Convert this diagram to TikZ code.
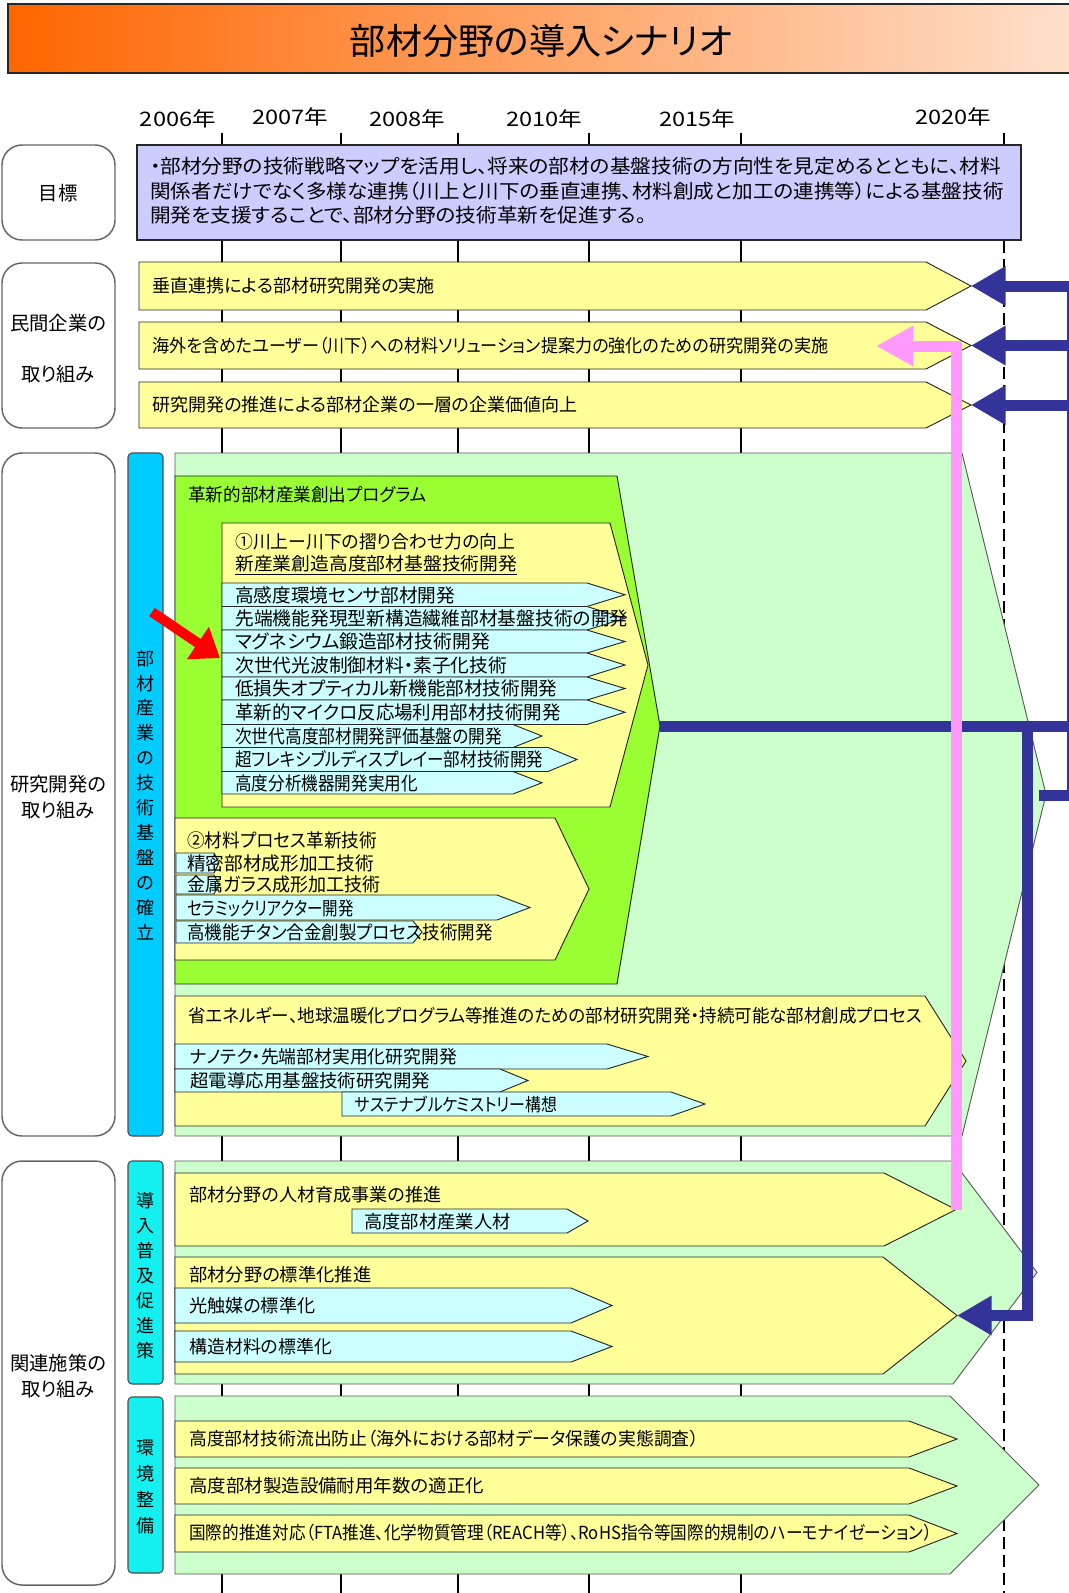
\documentclass[tikz,border=0pt]{standalone}
\usepackage{fontspec}
\setmainfont{Noto Sans CJK JP}[RawFeature={+palt}]
\usetikzlibrary{arrows.meta}
\definecolor{ylw}{RGB}{255,255,153}
\definecolor{lgrn}{RGB}{204,255,204}
\definecolor{bgrn}{RGB}{153,255,51}
\definecolor{lcyn}{RGB}{204,255,255}
\definecolor{dblu}{RGB}{51,51,153}
\definecolor{pnk}{RGB}{255,153,255}
\definecolor{lav}{RGB}{204,204,255}
\definecolor{sky}{RGB}{0,204,255}
\definecolor{aqua}{RGB}{20,240,240}
\definecolor{ttlL}{RGB}{255,102,0}
\definecolor{ttlR}{RGB}{255,226,206}
\newcommand\fitw[2]{\resizebox{#1pt}{\height}{#2}}
\newcommand\mypent[6][]{\path[#1] (#2,#3) -- (#4,#3) -- (#5,{(#3+#6)/2}) -- (#4,#6) -- (#2,#6) -- cycle;}
\tikzset{
  pen/.style={draw=black!85, line width=0.7pt},
  ybox/.style={pen, fill=ylw},
  cbox/.style={pen, fill=lcyn},
  gbox/.style={draw=black!65, line width=0.7pt, fill=lgrn},
  bgbox/.style={pen, fill=bgrn},
  sidebox/.style={draw=black!60, line width=1.1pt, fill=white, rounded corners=15pt},
  vbar/.style={draw=black!70, line width=0.8pt, rounded corners=3pt},
  tx/.style={anchor=west, inner sep=0pt, font=\fontsize{13.5}{16}\selectfont},
  gtx/.style={anchor=west, inner sep=0pt, font=\fontsize{14.5}{17}\selectfont},
  sidetx/.style={align=center, inner sep=0pt, font=\fontsize{14.5}{19.5}\selectfont},
  yr/.style={inner sep=0pt, font=\fontsize{15}{18}\selectfont},
  tick/.style={line width=1.5pt, black},
  blueln/.style={line width=8.25pt, dblu},
  bluearr/.style={line width=8.25pt, dblu, line join=miter, -{Triangle[length=26pt 0 0, width=28pt 0 0]}},
}
\begin{document}
\begin{tikzpicture}[x=0.75pt,y=-0.75pt]
\fill[white] (0,0) rectangle (1068,1593);
\useasboundingbox (0,0) rectangle (1068,1593);

% ---------- title
\shade[left color=ttlL, right color=ttlR] (8,4) rectangle (1090,73);
\draw[black!85, line width=1.5pt] (8,4) rectangle (1090,73);
\node[inner sep=0pt, font=\fontsize{27}{30}\selectfont] (title) at (541,41) {\fitw{286.5}{部材分野の導入シナリオ}};

% ---------- time axis
\foreach \x in {222,341,458,589,741} \draw[tick] (\x,133) -- (\x,1593);
\draw[tick, dash pattern=on 9pt off 4.5pt] (1004,133) -- (1004,1593);
\node[yr] (y2006) at (178,119) {\fitw{57}{2006年}};
\node[yr] (y2007) at (290,117) {\fitw{57}{2007年}};
\node[yr] (y2008) at (407,119) {\fitw{57}{2008年}};
\node[yr] (y2010) at (544,119) {\fitw{57}{2010年}};
\node[yr] (y2015) at (697,119) {\fitw{57}{2015年}};
\node[yr] (y2020) at (953,117) {\fitw{57}{2020年}};

% ---------- goal
\draw[black!85, line width=1.2pt, fill=lav] (137,145) rectangle (1021,240);
\node[gtx] (goal1) at (150,166) {\fitw{638}{・部材分野の技術戦略マップを活用し、将来の部材の基盤技術の方向性を見定めるとともに、材料}};
\node[gtx] (goal2) at (150,191) {\fitw{640}{関係者だけでなく多様な連携（川上と川下の垂直連携、材料創成と加工の連携等）による基盤技術}};
\node[gtx] (goal3) at (150,215) {\fitw{372}{開発を支援することで、部材分野の技術革新を促進する。}};

% ---------- side labels
\draw[sidebox] (2,145) rectangle (115,240);
\node[sidetx] (s1) at (58,193) {目標};
\draw[sidebox] (2,263) rectangle (115,428);
\node[sidetx] (s2a) at (58,323) {民間企業の};
\node[sidetx] (s2b) at (58,374) {取り組み};
\draw[sidebox] (2,453) rectangle (115,1136);
\node[sidetx] (s3) at (58,797) {研究開発の\\取り組み};
\draw[sidebox] (2,1161) rectangle (115,1585);
\node[sidetx] (s4) at (58,1376) {関連施策の\\取り組み};

% ---------- private sector rows
\mypent[ybox]{139}{262}{926}{971}{310}
\mypent[ybox]{139}{322}{926}{971}{369}
\mypent[ybox]{139}{382}{926}{971}{428}
\node[tx] (p1) at (152,286) {\fitw{212}{垂直連携による部材研究開発の実施}};
\node[tx] (p2) at (152,346) {\fitw{507}{海外を含めたユーザー（川下）への材料ソリューション提案力の強化のための研究開発の実施}};
\node[tx] (p3) at (152,405) {\fitw{319}{研究開発の推進による部材企業の一層の企業価値向上}};

% ---------- research section
\draw[vbar, fill=sky] (128,453) rectangle (163,1136);
\node[align=center, inner sep=0pt, font=\fontsize{13.5}{18.7}\selectfont] (v1) at (145.5,795) {部\\材\\産\\業\\の\\技\\術\\基\\盤\\の\\確\\立};
\mypent[gbox]{175}{453}{962}{1046}{1136}
\path[bgbox] (175,476) -- (617,476) -- (660,726) -- (617,984) -- (175,984) -- cycle;
\node[tx] (prog) at (188,495) {\fitw{179}{革新的部材産業創出プログラム}};

\mypent[ybox]{222}{523}{610}{648}{807}
\node[tx] (one1) at (235,542) {\fitw{210}{①川上ー川下の摺り合わせ力の向上}};
\node[tx] (one2) at (235,565) {\fitw{211.5}{\underline{新産業創造高度部材基盤技術開発}}};

\mypent[cbox]{222}{583}{587}{625}{606.5}
\mypent[cbox]{222}{606.5}{587}{625}{630}
\mypent[cbox]{222}{630}{587}{625}{653}
\mypent[cbox]{222}{653}{587}{625}{677}
\mypent[cbox]{222}{677}{587}{625}{700}
\mypent[cbox]{222}{700}{587}{625}{724.5}
\mypent[cbox]{222}{724.5}{513}{542}{747.5}
\mypent[cbox]{222}{747.5}{548}{577}{771.5}
\mypent[cbox]{222}{771.5}{513}{542}{794}
\node[tx,font=\fontsize{14}{16}\selectfont] (b1) at (235,595) {\fitw{165}{高感度環境センサ部材開発}};
\node[tx,font=\fontsize{14}{16}\selectfont] (b2) at (235,618.5) {\fitw{295}{先端機能発現型新構造繊維部材基盤技術の開発}};
\node[tx,font=\fontsize{14}{16}\selectfont] (b3) at (235,641.5) {\fitw{191}{マグネシウム鍛造部材技術開発}};
\node[tx,font=\fontsize{14}{16}\selectfont] (b4) at (235,665) {\fitw{204}{次世代光波制御材料・素子化技術}};
\node[tx,font=\fontsize{14}{16}\selectfont] (b5) at (235,688.5) {\fitw{241.5}{低損失オプティカル新機能部材技術開発}};
\node[tx,font=\fontsize{14}{16}\selectfont] (b6) at (235,712) {\fitw{244}{革新的マイクロ反応場利用部材技術開発}};
\node[tx,font=\fontsize{14}{16}\selectfont] (b7) at (235,736) {\fitw{200}{次世代高度部材開発評価基盤の開発}};
\node[tx,font=\fontsize{14}{16}\selectfont] (b8) at (235,759.5) {\fitw{231}{超フレキシブルディスプレイー部材技術開発}};
\node[tx,font=\fontsize{14}{16}\selectfont] (b9) at (235,783) {\fitw{137}{高度分析機器開発実用化}};

\mypent[ybox]{175}{818}{555}{589}{960}
\mypent[cbox]{176}{853}{214}{219}{873}
\mypent[cbox]{176}{875}{214}{219}{894}
\mypent[cbox]{176}{895}{497}{530}{920}
\mypent[cbox]{176}{921}{413}{422}{943}
\node[tx,font=\fontsize{14}{16}\selectfont] (two) at (187,840) {\fitw{142.5}{②材料プロセス革新技術}};
\node[tx,font=\fontsize{14}{16}\selectfont] (c1) at (187,863) {\fitw{140}{精密部材成形加工技術}};
\node[tx,font=\fontsize{14}{16}\selectfont] (c2) at (187,884) {\fitw{145}{金属ガラス成形加工技術}};
\node[tx,font=\fontsize{14}{16}\selectfont] (c3) at (187,908) {\fitw{125}{セラミックリアクター開発}};
\node[tx,font=\fontsize{14}{16}\selectfont] (c4) at (187,932) {\fitw{229}{高機能チタン合金創製プロセス技術開発}};

\mypent[ybox]{175}{996}{925}{966}{1126}
\mypent[cbox]{175}{1044}{607}{648}{1069}
\mypent[cbox]{175}{1069}{500}{528}{1092}
\mypent[cbox]{342}{1092}{671}{705}{1116}
\node[tx] (en) at (188,1016) {\fitw{550.5}{省エネルギー、地球温暖化プログラム等推進のための部材研究開発・持続可能な部材創成プロセス}};
\node[tx] (d1) at (190,1057) {\fitw{200}{ナノテク・先端部材実用化研究開発}};
\node[tx] (d2) at (190,1081) {\fitw{180}{超電導応用基盤技術研究開発}};
\node[tx] (d3) at (355,1104.5) {\fitw{151.5}{サステナブルケミストリー構想}};

% ---------- related measures
\draw[vbar, fill=aqua] (128,1161) rectangle (163,1384);
\node[align=center, inner sep=0pt, font=\fontsize{13.5}{18.75}\selectfont] (v2) at (145.5,1276) {導\\入\\普\\及\\促\\進\\策};
\draw[vbar, fill=aqua] (128,1397) rectangle (163,1573);
\node[align=center, inner sep=0pt, font=\fontsize{13.5}{19.5}\selectfont] (v3) at (145.5,1487) {環\\境\\整\\備};

\mypent[gbox]{175}{1161}{953}{1037}{1384}
\mypent[ybox]{175}{1173}{884}{956}{1246}
\mypent[ybox]{175}{1257}{883}{957}{1374}
\mypent[cbox]{352}{1209}{567}{588}{1233}
\mypent[cbox]{175}{1288}{571}{612}{1323}
\mypent[cbox]{175}{1331}{571}{612}{1362}
\node[tx] (h1) at (189,1195) {\fitw{189}{部材分野の人材育成事業の推進}};
\node[tx] (h2) at (364,1222) {\fitw{110}{高度部材産業人材}};
\node[tx] (h3) at (189,1275) {\fitw{136.5}{部材分野の標準化推進}};
\node[tx] (h4) at (189,1306) {\fitw{94.5}{光触媒の標準化}};
\node[tx] (h5) at (189,1347) {\fitw{107}{構造材料の標準化}};

\mypent[gbox]{175}{1396}{950}{1039}{1574}
\mypent[ybox]{175}{1421}{909}{957}{1457}
\mypent[ybox]{175}{1468}{909}{957}{1504}
\mypent[ybox]{175}{1515}{909}{957}{1552}
\node[tx] (k1) at (189,1439) {\fitw{382}{高度部材技術流出防止（海外における部材データ保護の実態調査）}};
\node[tx] (k2) at (189,1486) {\fitw{221}{高度部材製造設備耐用年数の適正化}};
\node[tx] (k3) at (189,1533) {\fitw{557}{国際的推進対応（FTA推進、化学物質管理（REACH等）、RoHS指令等国際的規制のハーモナイゼーション）}};

% ---------- connectors
\coordinate (r1tip) at (971,286);
\coordinate (r2tip) at (971,345.5);
\coordinate (r3tip) at (971,405);
\coordinate (e1) at (1072.5,286);
\coordinate (e2) at (1072.5,345.5);
\coordinate (e3) at (1072.5,405);
\coordinate (etop) at (1072.5,281);
\coordinate (ebot) at (1072.5,801);
\coordinate (resin) at (1039,795);
\coordinate (e4) at (1072.5,795);
\coordinate (progtip) at (660,726);
\coordinate (eprog) at (1072.5,726);
\coordinate (bend1) at (1027,726);
\coordinate (bend2) at (1027,1315.5);
\coordinate (stdtip) at (957,1315.5);
\coordinate (jintip) at (956,1209.5);
\coordinate (pbend) at (956,346);
\coordinate (pinkend) at (876,346);
\coordinate (redtail) at (152,612);
\coordinate (redtip) at (220,658);

\draw[blueln] (etop) -- (ebot);
\draw[bluearr] (e1) -- (r1tip);
\draw[bluearr] (e2) -- (r2tip);
\draw[bluearr] (e3) -- (r3tip);
\draw[blueln] (e4) -- (resin);
\draw[blueln] (progtip) -- (eprog);
\draw[bluearr] (bend1) -- (bend2) -- (stdtip);

\draw[pnk, line width=8.25pt, line join=miter, -{Triangle[length=28pt 0 0, width=28.5pt 0 0]}] (jintip) -- (pbend) -- (pinkend);

\draw[red, line width=7.5pt, -{Triangle[length=20pt 0 0, width=28pt 0 0]}] (redtail) -- (redtip);
\end{tikzpicture}
\end{document}
